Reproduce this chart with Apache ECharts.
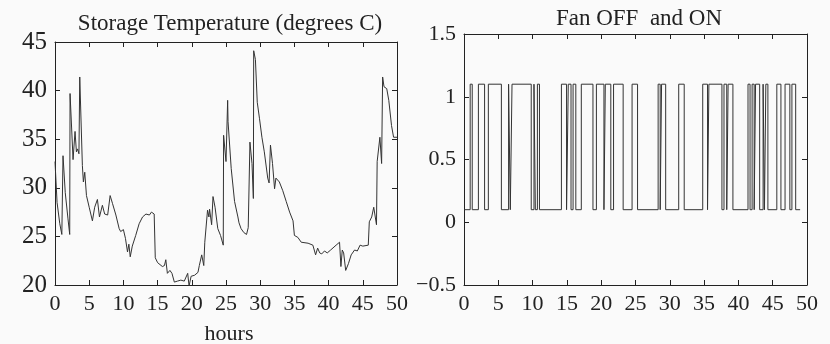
<!DOCTYPE html>
<html lang="en">
<head>
  <meta charset="utf-8">
  <script src="https://cdn.jsdelivr.net/npm/echarts/dist/echarts.min.js"></script>
</head>
<body style="margin:0; background:#fafafa">
  <div id="main" style="width:830px; height:344px"></div>
  <script>
    // temperature trace (hours, degrees C)
    var tempHours = [0,0.3,0.7,1.0,1.17,1.5,1.9,2.15,2.2,2.64,2.93,3.13,3.3,3.5,3.62,4.0,4.15,4.35,4.6,5.0,5.2,5.47,5.8,6.2,6.5,6.93,7.26,7.7,8.06,8.4,8.9,9.38,9.6,10.0,10.3,10.6,10.8,11.0,11.3,11.8,12.3,12.8,13.3,13.8,14.1,14.5,14.66,15.0,15.7,16.0,16.2,16.43,16.8,17.1,17.45,17.9,18.4,18.9,19.4,19.6,19.9,20.4,20.9,21.1,21.45,21.75,21.9,22.3,22.5,22.6,22.9,23.1,23.4,23.8,24.2,24.6,24.65,25.0,25.24,25.3,25.76,26.25,26.74,26.9,27.2,27.6,28.0,28.25,28.5,28.8,29.0,29.05,29.3,29.57,29.9,30.25,30.6,31.1,31.3,31.5,31.8,32.1,32.3,32.8,33.3,33.8,34.3,34.8,35.0,35.5,36.0,37.0,37.7,38.1,38.4,38.7,39.0,39.4,39.8,40.3,41.1,41.6,41.8,42.0,42.2,42.5,42.9,43.3,43.8,44.2,44.6,45.0,45.8,45.95,46.3,46.6,47.0,47.1,47.5,47.75,47.9,48.1,48.5,48.8,49.2,49.5,50];
    var tempValues = [32.7,28.5,26.3,25.2,33.3,29.5,26.8,25.2,39.7,32.9,35.8,33.7,34.0,33.5,41.4,32.3,30.6,31.6,29.2,28.0,28.2,26.6,28.0,28.8,27.0,28.2,27.3,27.2,29.2,28.4,27.2,25.8,25.5,25.7,24.8,23.4,24.2,22.9,24.0,25.1,26.3,27.0,27.3,27.2,27.5,27.3,22.8,22.3,21.9,22.0,22.6,21.2,21.5,21.2,20.3,20.4,20.5,20.4,21.2,19.9,20.9,21.0,21.3,22.0,23.1,22.0,24.4,27.7,27.0,27.8,26.2,29.1,28.0,25.8,25.1,24.1,35.4,32.7,39.0,36.8,32.0,28.6,27.0,26.4,25.8,25.4,25.2,25.9,34.7,32.5,28.9,44.1,43.2,38.8,37.1,35.2,33.7,31.0,30.5,34.4,32.5,29.9,31.0,30.6,29.7,28.6,27.5,26.6,25.1,24.9,24.4,24.3,24.1,23.1,23.8,23.3,23.2,23.5,23.3,23.6,24.1,24.4,21.9,23.6,23.3,21.5,22.2,23.1,23.6,23.5,24.1,24.0,24.1,26.5,27.0,28.0,26.2,32.7,35.2,32.5,41.4,40.4,40.2,39.0,36.4,35.2,35.2];

    // fan switching times (hours) and the level held from each time on
    var fanHours = [0,0.9,1.2,2.1,3.0,3.55,5.45,6.5,6.75,7.0,9.8,10.2,10.4,10.7,11.0,14.2,14.95,15.2,15.6,15.9,16.3,17.1,18.8,19.3,20.4,20.6,21.4,21.8,23.2,24.5,25.3,28.3,28.6,28.8,29.4,31.3,32.1,34.8,35.5,35.7,37.6,37.9,38.3,38.5,39.2,41.4,41.7,42.0,42.3,42.5,43.1,43.6,43.8,44.0,44.3,45.6,46.2,46.8,47.5,47.8,48.35,49.0];
    var fanValues = [0.1,1.1,0.1,1.1,0.1,1.1,0.1,1.1,0.1,1.1,0.1,1.1,0.1,1.1,0.1,1.1,0.1,1.1,0.1,1.1,0.1,1.1,0.1,1.1,0.1,1.1,0.1,1.1,0.1,1.1,0.1,1.1,0.1,1.1,0.1,1.1,0.1,1.1,0.1,1.1,0.1,1.1,0.1,1.1,0.1,1.1,0.1,1.1,0.1,1.1,0.1,1.1,0.1,1.1,0.1,1.1,0.1,1.1,0.1,1.1,0.1,0.1];

    var hourTicks = [0, 50, 5];
    var tempTicks = [20, 45, 5];
    var fanTicks = [-0.5, 1.5, 0.5];

    var ink = '#222';
    var font = 'Liberation Serif';

    function pairs(xs, ys) {
      return xs.map(function (x, i) { return [x, ys[i]]; });
    }

    function xAx(grid, top) {
      return {
        type: 'value', gridIndex: grid, position: top ? 'top' : 'bottom',
        min: hourTicks[0], max: hourTicks[1], interval: hourTicks[2],
        axisLine: { show: true, onZero: false, lineStyle: { color: ink, width: 1 } },
        axisTick: { show: true, inside: true, length: 5, lineStyle: { color: ink } },
        axisLabel: { show: !top, color: ink, fontFamily: font, fontSize: 22, margin: 8 },
        splitLine: { show: false }
      };
    }

    function yAx(grid, right, t, size, fmt) {
      return {
        type: 'value', gridIndex: grid, position: right ? 'right' : 'left',
        min: t[0], max: t[1], interval: t[2],
        axisLine: { show: true, onZero: false, lineStyle: { color: ink, width: 1 } },
        axisTick: { show: true, inside: true, length: 5, lineStyle: { color: ink } },
        axisLabel: { show: !right, color: ink, fontFamily: font, fontSize: size, margin: 8, formatter: fmt },
        splitLine: { show: false }
      };
    }

    var minus = function (v) { return String(v).replace('-', '\u2212'); };
    var txt = { color: ink, fontFamily: font, fontSize: 23, fontWeight: 'normal' };

    var chart = echarts.init(document.getElementById('main'));
    chart.setOption({
      animation: false,
      backgroundColor: '#fafafa',
      title: [
        { text: 'Storage Temperature (degrees C)', left: 225, top: 7, textAlign: 'center', textStyle: txt },
        { text: 'Fan OFF  and ON', left: 634, top: 2, textAlign: 'center', textStyle: txt },
        { text: 'hours', left: 224, top: 318, textAlign: 'center',
          textStyle: { color: ink, fontFamily: font, fontSize: 22, fontWeight: 'normal' } }
      ],
      grid: [
        { left: 55, top: 42, width: 342, height: 243, outerBoundsMode: 'none' },
        { left: 464, top: 34, width: 343, height: 251, outerBoundsMode: 'none' }
      ],
      xAxis: [xAx(0, false), xAx(0, true), xAx(1, false), xAx(1, true)],
      yAxis: [yAx(0, false, tempTicks, 25), yAx(0, true, tempTicks, 25),
              yAx(1, false, fanTicks, 22, minus), yAx(1, true, fanTicks, 22)],
      series: [
        { type: 'line', xAxisIndex: 0, yAxisIndex: 0, data: pairs(tempHours, tempValues),
          showSymbol: false, lineStyle: { color: '#333', width: 1 } },
        { type: 'line', xAxisIndex: 2, yAxisIndex: 2, data: pairs(fanHours, fanValues),
          step: 'end', showSymbol: false, lineStyle: { color: '#333', width: 1 } }
      ]
    });
  </script>
</body>
</html>
